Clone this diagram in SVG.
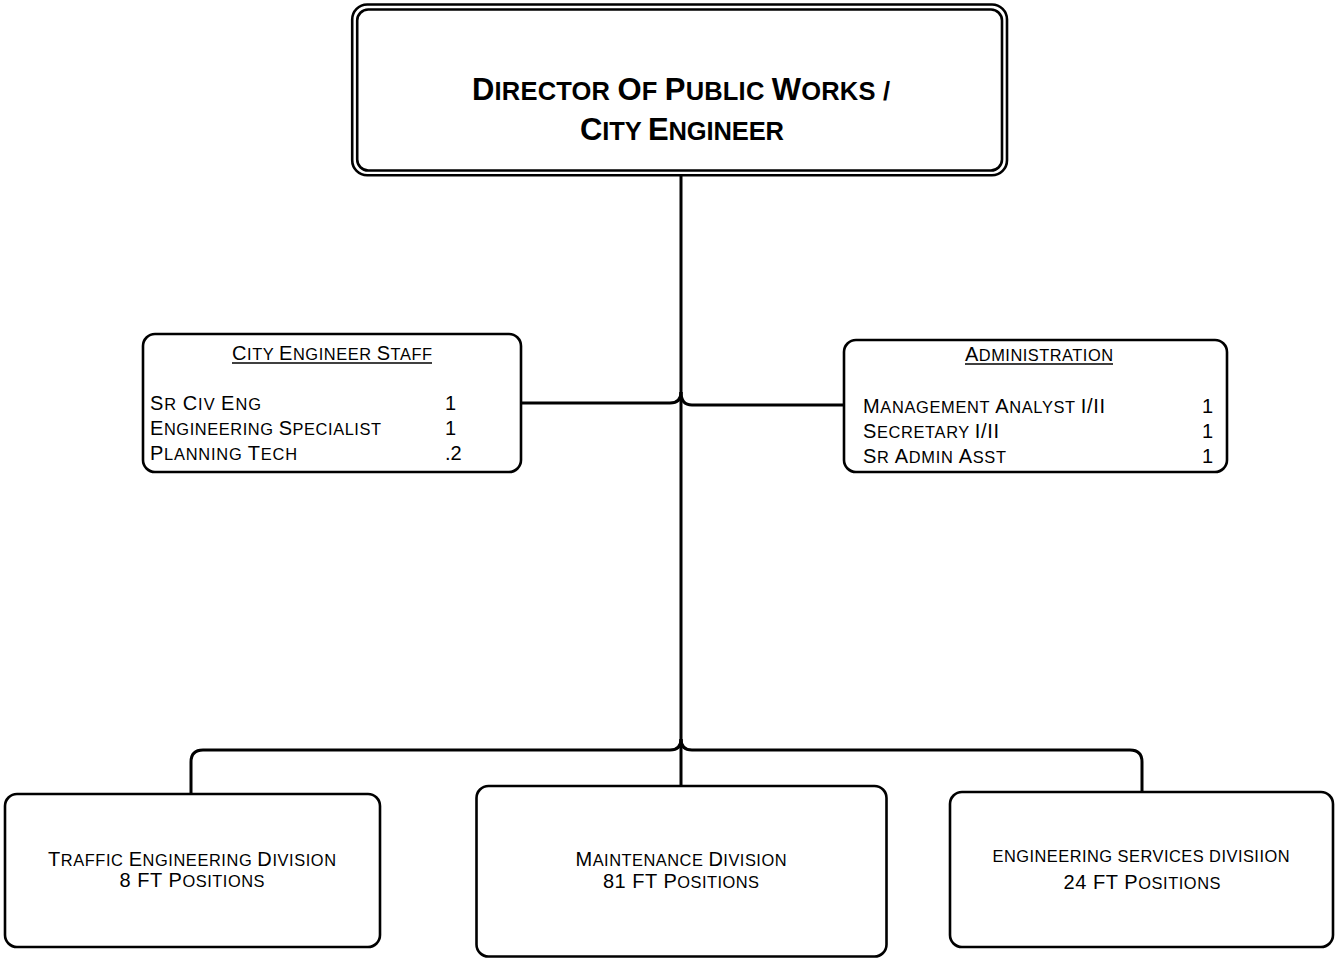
<svg xmlns="http://www.w3.org/2000/svg" width="1335" height="958" viewBox="0 0 1335 958">
  <style>
    .box { fill: #ffffff; stroke: #000000; stroke-width: 2.6; }
    .wire { fill: none; stroke: #000000; stroke-width: 3; }
    .uline { stroke: #000000; stroke-width: 1.3; }
    text { font-family: "Liberation Sans", Arial, sans-serif; fill: #000000; }
    .head { font-weight: bold; font-size: 31px; }
    .head .s { font-size: 25.5px; }
    .lbl { font-size: 20px; }
    .lbl .s { font-size: 16.4px; }
    .mid { text-anchor: middle; }
  </style>

  <rect width="1335" height="958" fill="#ffffff"/>

  <!-- connectors -->
  <g id="connectors">
    <path class="wire" d="M681,176 V786"/>
    <path class="wire" d="M521,403 H670 Q681,403 681,392"/>
    <path class="wire" d="M681,392 Q681,405 692,405 H844"/>
    <path class="wire" d="M681,739 Q681,750 670,750 H203 Q191,750 191,762 V795"/>
    <path class="wire" d="M681,739 Q681,750 692,750 H1130 Q1142,750 1142,762 V792"/>
  </g>

  <!-- director -->
  <g id="director">
    <rect class="box" x="352.2" y="4.5" width="654.8" height="170.8" rx="15"/>
    <rect class="box" x="357.2" y="9.5" width="644.8" height="161" rx="11"/>
    <text class="head mid" x="681" y="99.5" textLength="418" lengthAdjust="spacing"><tspan>D</tspan><tspan class="s">IRECTOR </tspan><tspan>O</tspan><tspan class="s">F </tspan><tspan>P</tspan><tspan class="s">UBLIC </tspan><tspan>W</tspan><tspan class="s">ORKS /</tspan></text>
    <text class="head mid" x="682" y="139.5" textLength="204" lengthAdjust="spacing"><tspan>C</tspan><tspan class="s">ITY </tspan><tspan>E</tspan><tspan class="s">NGINEER</tspan></text>
  </g>

  <!-- city engineer staff -->
  <g id="city-engineer-staff">
    <rect class="box" x="143" y="334" width="378" height="138" rx="12"/>
    <text class="lbl mid" x="332" y="360" textLength="200" lengthAdjust="spacing"><tspan>C</tspan><tspan class="s">ITY </tspan><tspan>E</tspan><tspan class="s">NGINEER </tspan><tspan>S</tspan><tspan class="s">TAFF</tspan></text>
    <line class="uline" x1="232" y1="363" x2="432" y2="363"/>
    <text class="lbl" x="150" y="410" textLength="111" lengthAdjust="spacing"><tspan>S</tspan><tspan class="s">R </tspan><tspan>C</tspan><tspan class="s">IV </tspan><tspan>E</tspan><tspan class="s">NG</tspan></text>
    <text class="lbl" x="150" y="435" textLength="231" lengthAdjust="spacing"><tspan>E</tspan><tspan class="s">NGINEERING </tspan><tspan>S</tspan><tspan class="s">PECIALIST</tspan></text>
    <text class="lbl" x="150" y="460" textLength="147" lengthAdjust="spacing"><tspan>P</tspan><tspan class="s">LANNING </tspan><tspan>T</tspan><tspan class="s">ECH</tspan></text>
    <text class="lbl" x="445" y="410">1</text>
    <text class="lbl" x="445" y="435">1</text>
    <text class="lbl" x="445" y="460">.2</text>
  </g>

  <!-- administration -->
  <g id="administration">
    <rect class="box" x="844" y="340" width="383" height="132" rx="12"/>
    <text class="lbl mid" x="1039" y="361" textLength="148" lengthAdjust="spacing"><tspan>A</tspan><tspan class="s">DMINISTRATION</tspan></text>
    <line class="uline" x1="965" y1="364" x2="1113" y2="364"/>
    <text class="lbl" x="863" y="412.5" textLength="242" lengthAdjust="spacing"><tspan>M</tspan><tspan class="s">ANAGEMENT </tspan><tspan>A</tspan><tspan class="s">NALYST </tspan><tspan>I/II</tspan></text>
    <text class="lbl" x="863" y="437.5" textLength="136" lengthAdjust="spacing"><tspan>S</tspan><tspan class="s">ECRETARY </tspan><tspan>I/II</tspan></text>
    <text class="lbl" x="863" y="462.5" textLength="143" lengthAdjust="spacing"><tspan>S</tspan><tspan class="s">R </tspan><tspan>A</tspan><tspan class="s">DMIN </tspan><tspan>A</tspan><tspan class="s">SST</tspan></text>
    <text class="lbl" x="1202" y="412.5">1</text>
    <text class="lbl" x="1202" y="437.5">1</text>
    <text class="lbl" x="1202" y="462.5">1</text>
  </g>

  <!-- traffic engineering division -->
  <g id="traffic-engineering">
    <rect class="box" x="5" y="794" width="375" height="153" rx="12"/>
    <text class="lbl mid" x="192" y="866" textLength="288" lengthAdjust="spacing"><tspan>T</tspan><tspan class="s">RAFFIC </tspan><tspan>E</tspan><tspan class="s">NGINEERING </tspan><tspan>D</tspan><tspan class="s">IVISION</tspan></text>
    <text class="lbl mid" x="192" y="887" textLength="145" lengthAdjust="spacing"><tspan>8 FT P</tspan><tspan class="s">OSITIONS</tspan></text>
  </g>

  <!-- maintenance division -->
  <g id="maintenance">
    <rect class="box" x="476.5" y="786" width="410" height="170.5" rx="12"/>
    <text class="lbl mid" x="681" y="866" textLength="211" lengthAdjust="spacing"><tspan>M</tspan><tspan class="s">AINTENANCE </tspan><tspan>D</tspan><tspan class="s">IVISION</tspan></text>
    <text class="lbl mid" x="681" y="888" textLength="156" lengthAdjust="spacing"><tspan>81 FT P</tspan><tspan class="s">OSITIONS</tspan></text>
  </g>

  <!-- engineering services division -->
  <g id="engineering-services">
    <rect class="box" x="950" y="792" width="383" height="155" rx="12"/>
    <text class="lbl mid" x="1141" y="862" textLength="297" lengthAdjust="spacing"><tspan class="s">ENGINEERING SERVICES DIVISIION</tspan></text>
    <text class="lbl mid" x="1142" y="889" textLength="157" lengthAdjust="spacing"><tspan>24 FT P</tspan><tspan class="s">OSITIONS</tspan></text>
  </g>
</svg>
